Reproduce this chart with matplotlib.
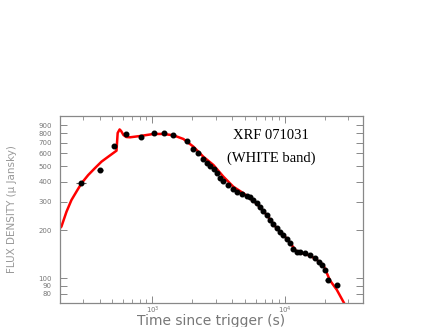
import matplotlib
matplotlib.use("Agg")
import matplotlib.pyplot as plt
from matplotlib.ticker import LogLocator, FixedLocator, FixedFormatter, NullFormatter
from matplotlib import font_manager

# Observed data (time [s], flux density [uJy])
obs_t = [289, 402, 512, 634, 822, 1025, 1225, 1440, 1836, 2013, 2198, 2398, 2570,
         2724, 2917, 3054, 3236, 3432, 3744, 4078, 4323, 4717, 5144, 5445, 5768,
         6120, 6486, 6823, 7278, 7708, 8128, 8650, 9160, 9660, 10300, 10910,
         11480, 12240, 12970, 14150, 15430, 16830, 18030, 19000, 20000, 21000, 24500]
obs_f = [391, 473, 667, 793, 756, 807, 800, 778, 720, 642, 606, 556, 525,
         500, 482, 451, 420, 405, 381, 359, 344, 335, 326, 320, 307,
         294, 278, 264, 248, 231, 218, 205, 194, 185, 177, 166,
         152, 146.6, 145, 143, 139, 133, 127, 121, 113, 97, 91]
obs_terr = [25, 20, 15, 15, 20, 20, 20, 20, 20, 0, 0, 0, 0,
            0, 0, 0, 0, 0, 0, 0, 0, 0, 0, 0, 0,
            0, 0, 0, 0, 0, 0, 0, 0, 0, 0, 0,
            0, 0, 0, 0, 0, 0, 0, 0, 0, 900, 1000]

# Model curve
mod_t = [200, 206, 225, 245, 267, 292, 328, 368, 413, 464, 536, 547, 566, 581, 605,
         634, 679, 808, 1017, 1210, 1440, 1712, 2036, 2421, 2884, 3428, 4077,
         4848, 5445, 6120, 7278, 8650, 10300, 12240, 14570, 16830, 19440,
         21830, 24520, 27840, 29500]
mod_f = [205, 210, 260, 307, 346, 391, 440, 485, 533, 572, 624, 804, 846, 827, 781,
         759, 756, 770, 793, 793, 778, 738, 661, 572, 508, 430, 372,
         339, 315, 292, 248, 205, 177, 146.6, 141, 133, 121,
         97, 85, 70.2, 64]

yticks = [80, 90, 100, 200, 300, 400, 500, 600, 700, 800, 900]

names = {f.name for f in font_manager.fontManager.ttflist}
narrow = "Liberation Sans Narrow" if "Liberation Sans Narrow" in names else "DejaVu Sans"
ylab_size = 9.5 if narrow == "Liberation Sans Narrow" else 7.5

fig = plt.figure(figsize=(4.36, 3.27), dpi=100)
ax = fig.add_axes([60/436, 1-303/327, 303/436, 187/327])

ax.set_xscale("log")
ax.set_yscale("log")
ax.set_xlim(201, 38700)
ax.set_ylim(70.2, 1026)

ax.plot(mod_t, mod_f, color="#ff0000", lw=1.8, zorder=2)
ax.errorbar(obs_t, obs_f, xerr=obs_terr, fmt="o", color="black", ms=3.3,
            mec="black", ecolor="#555555", elinewidth=0.8, capsize=0, zorder=3)

gray = "#888888"
for s in ax.spines.values():
    s.set_color(gray)
    s.set_linewidth(0.9)

ax.yaxis.set_major_locator(FixedLocator(yticks))
ax.yaxis.set_major_formatter(FixedFormatter([str(v) for v in yticks]))
ax.yaxis.set_minor_locator(FixedLocator([]))
ax.yaxis.set_minor_formatter(NullFormatter())
ax.xaxis.set_major_locator(LogLocator(base=10, numticks=10))
ax.xaxis.set_minor_locator(LogLocator(base=10, subs=range(2, 10), numticks=20))
ax.xaxis.set_minor_formatter(NullFormatter())

ax.tick_params(which="both", direction="in", top=True, right=True, colors=gray,
               labelcolor="#777777")
ax.tick_params(axis="y", which="major", length=5, width=0.7, labelsize=5, pad=6)
ax.tick_params(axis="x", which="major", length=5, width=0.7, labelsize=5, pad=1)
ax.tick_params(axis="x", which="minor", length=3, width=0.6)

ax.set_ylabel("FLUX DENSITY (\u03bc Jansky)", color="#999999", fontsize=ylab_size,
              family=[narrow, "DejaVu Sans"])
ax.yaxis.set_label_coords(-0.142, 0.5)
ax.set_xlabel("Time since trigger (s)", color="#777777", fontsize=10,
              family="DejaVu Sans", va="top")
ax.xaxis.set_label_coords(0.5, -0.060)

ax.text(0.696, 0.896, "XRF 071031", transform=ax.transAxes, ha="center", va="center",
        fontsize=10.5, family="Liberation Serif", color="black")
ax.text(0.696, 0.775, "(WHITE band)", transform=ax.transAxes, ha="center", va="center",
        fontsize=10.5, family="Liberation Serif", color="black")

fig.savefig("out.png", dpi=100)
